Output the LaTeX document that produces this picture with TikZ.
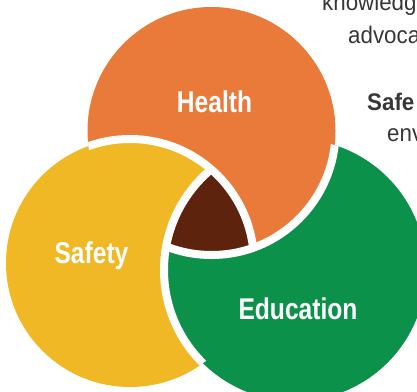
\documentclass[tikz,border=0pt]{standalone}
\usepackage{fontspec}
\setmainfont{Liberation Sans}
\newfontfamily\labelfont[FakeStretch=0.82]{Liberation Sans}
\newfontfamily\notefont[FakeStretch=0.93]{Liberation Sans}
\definecolor{healthorange}{RGB}{233,122,58}
\definecolor{safetyyellow}{RGB}{240,184,36}
\definecolor{educationgreen}{RGB}{12,145,74}
\definecolor{centrebrown}{RGB}{94,35,13}
\definecolor{notegray}{RGB}{55,55,55}
\tikzset{
	circlabel/.style={text=white, font=\labelfont\bfseries\fontsize{30}{30}\selectfont, inner sep=0pt, anchor=base},
	sidenote/.style={text=notegray, font=\notefont\fontsize{24}{24}\selectfont, inner sep=0pt, anchor=base west},
	gapline/.style={draw=white, line width=8pt}
}

\begin{document}
\begin{tikzpicture}[x=1pt,y=-1pt]
	\useasboundingbox (0,0) rectangle (417,391);
	\clip (0,0) rectangle (417,391);
	% circle centres
	\coordinate (health) at (211.5,131);
	\coordinate (safety) at (130,263);
	\coordinate (education) at (295,270);
	
	% draw circles
	\fill[educationgreen] (education) circle (131pt);
	\fill[healthorange] (health) circle (124pt);
	\fill[safetyyellow] (safety) circle (124pt);
	\begin{scope}
	\clip (safety) circle (126pt);
	\fill[educationgreen] (education) circle (131pt);
	\end{scope}
	
	% centre overlap
	\begin{scope}
	\clip (health) circle (124pt);
	\clip (safety) circle (124pt);
	\fill[centrebrown] (education) circle (131pt);
	\end{scope}
	
	% white gaps
	\begin{scope}
	\clip (health) circle (124pt);
	\draw[gapline] (safety) circle (124pt);
	\end{scope}
	\begin{scope}
	\clip (education) circle (131pt);
	\draw[gapline] (health) circle (124pt);
	\end{scope}
	\begin{scope}
	\clip (safety) circle (124pt);
	\draw[gapline] (education) circle (131pt);
	\end{scope}
	
	% labels
	\node[circlabel] (healthlabel) at (214.5,112) {Health};
	\node[circlabel] (safetylabel) at (91.5,263) {Safety};
	\node[circlabel] (educationlabel) at (298,319) {Education};
	
	% side text
	\node[sidenote] (note1) at (322,10) {knowledg};
	\node[sidenote] (note2) at (348,43) {advoca};
	\node[sidenote, font=\notefont\bfseries\fontsize{24}{24}\selectfont] (note3) at (367,110) {Safe};
	\node[sidenote] (note4) at (387,141) {env};
\end{tikzpicture}
\end{document}
